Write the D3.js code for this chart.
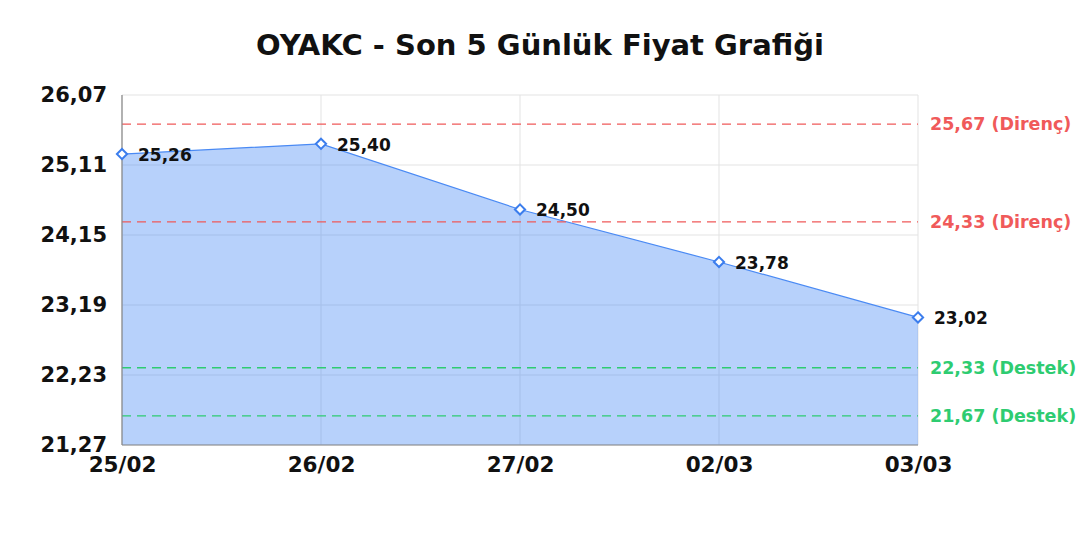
<!DOCTYPE html>
<html>
<head>
<meta charset="utf-8">
<script src="https://cdn.jsdelivr.net/npm/d3@7"></script>
<style>
  body { margin: 0; background: #fff; }
  text { font-family: "DejaVu Sans", sans-serif; font-weight: bold; }
</style>
</head>
<body>
<div id="chart"></div>
<script>
const dates = ["25/02", "26/02", "27/02", "02/03", "03/03"];
const prices = [25.26, 25.40, 24.50, 23.78, 23.02];
const yTicks = [21.27, 22.23, 23.19, 24.15, 25.11, 26.07];
const resistance = [25.67, 24.33];
const support = [22.33, 21.67];

const W = 1080, H = 540;
const margin = { top: 95, right: 162, bottom: 95, left: 122 };
const width = W - margin.left - margin.right;
const height = H - margin.top - margin.bottom;

const fmt = (v) => v.toFixed(2).replace(".", ",");

const svg = d3
  .select("#chart")
  .append("svg")
  .attr("width", W)
  .attr("height", H);

svg
  .append("text")
  .attr("x", W / 2)
  .attr("y", 55)
  .attr("text-anchor", "middle")
  .style("font-size", "29px")
  .attr("fill", "#111")
  .text("OYAKC - Son 5 Günlük Fiyat Grafiği");

const g = svg.append("g").attr("transform", `translate(${margin.left},${margin.top})`);

const xScale = d3.scalePoint().domain(dates).range([0, width]);
const yScale = d3.scaleLinear().domain([21.27, 26.07]).range([height, 0]);

// grid
g.append("g")
  .selectAll("line")
  .data(yTicks)
  .join("line")
  .attr("x1", 0)
  .attr("x2", width)
  .attr("y1", (d) => yScale(d))
  .attr("y2", (d) => yScale(d))
  .attr("stroke", "#e3e3e3")
  .attr("stroke-width", 1);
g.append("g")
  .selectAll("line")
  .data(dates)
  .join("line")
  .attr("x1", (d) => xScale(d))
  .attr("x2", (d) => xScale(d))
  .attr("y1", 0)
  .attr("y2", height)
  .attr("stroke", "#e3e3e3")
  .attr("stroke-width", 1);

const data = dates.map((d, i) => ({ date: d, close: prices[i] }));

const area = d3
  .area()
  .x((d) => xScale(d.date))
  .y0(height)
  .y1((d) => yScale(d.close));
const line = d3
  .line()
  .x((d) => xScale(d.date))
  .y((d) => yScale(d.close));

g.append("path")
  .datum(data)
  .attr("d", area)
  .attr("fill", "rgba(66,133,244,0.38)");

g.append("path")
  .datum(data)
  .attr("d", line)
  .attr("fill", "none")
  .attr("stroke", "#4a8af4")
  .attr("stroke-width", 1.2);

// reference lines
const refs = resistance
  .map((v) => ({ v, label: `${fmt(v)} (Direnç)`, color: "#f05a5a" }))
  .concat(support.map((v) => ({ v, label: `${fmt(v)} (Destek)`, color: "#2ecc71" })));

g.append("g")
  .selectAll("line")
  .data(refs)
  .join("line")
  .attr("x1", 0)
  .attr("x2", width)
  .attr("y1", (d) => yScale(d.v))
  .attr("y2", (d) => yScale(d.v))
  .attr("stroke", (d) => d.color)
  .attr("stroke-width", 1.4)
  .attr("stroke-dasharray", "9,6");

g.append("g")
  .selectAll("text")
  .data(refs)
  .join("text")
  .attr("x", width + 12)
  .attr("y", (d) => yScale(d.v))
  .attr("dy", "0.35em")
  .attr("fill", (d) => d.color)
  .style("font-size", "17.5px")
  .text((d) => d.label);

// axes lines
g.append("line")
  .attr("x1", 0).attr("x2", 0)
  .attr("y1", 0).attr("y2", height)
  .attr("stroke", "#888").attr("stroke-width", 1.2);
g.append("line")
  .attr("x1", 0).attr("x2", width)
  .attr("y1", height).attr("y2", height)
  .attr("stroke", "#888").attr("stroke-width", 1.2);

const yAxis = g
  .append("g")
  .call(d3.axisLeft(yScale).tickValues(yTicks).tickSize(0).tickPadding(15).tickFormat(fmt));
yAxis.select(".domain").remove();
yAxis.selectAll(".tick text")
  .style("font-size", "21px")
  .style("font-family", "DejaVu Sans, sans-serif")
  .attr("fill", "#111");

const xAxis = g
  .append("g")
  .attr("transform", `translate(0,${height})`)
  .call(d3.axisBottom(xScale).tickSize(0).tickPadding(12));
xAxis.select(".domain").remove();
xAxis.selectAll(".tick text")
  .style("font-size", "21.5px")
  .style("font-family", "DejaVu Sans, sans-serif")
  .attr("fill", "#111");

// markers
const diamond = d3.symbol().type(d3.symbolDiamond2).size(66);
g.append("g")
  .selectAll("path")
  .data(data)
  .join("path")
  .attr("d", diamond)
  .attr("transform", (d) => `translate(${xScale(d.date)},${yScale(d.close)})`)
  .attr("fill", "#fff")
  .attr("stroke", "#3b7ded")
  .attr("stroke-width", 2);

g.append("g")
  .selectAll("text")
  .data(data)
  .join("text")
  .attr("x", (d) => xScale(d.date) + 16)
  .attr("y", (d) => yScale(d.close) + 1)
  .attr("dy", "0.35em")
  .attr("fill", "#111")
  .style("font-size", "17px")
  .text((d) => fmt(d.close));
</script>
</body>
</html>
